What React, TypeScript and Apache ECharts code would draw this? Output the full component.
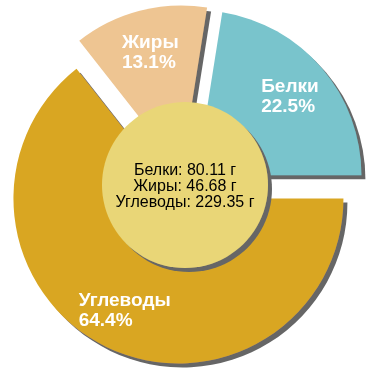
import React, { useEffect, useRef } from "react";
import * as echarts from "echarts";

const categories = ["Белки", "Жиры", "Углеводы"];
const grams = [80.11, 46.68, 229.35];
const colors = ["#79c4cc", "#eec592", "#d9a621"];
const centerColor = "#e9d677";
const unit = "г";

export default function App() {
  const ref = useRef<HTMLDivElement>(null);
  useEffect(() => {
    if (!ref.current) return;
    const chart = echarts.init(ref.current, undefined, { renderer: "svg" });
    const shadow = {
      shadowColor: "#666666",
      shadowBlur: 0,
      shadowOffsetX: 4,
      shadowOffsetY: 4,
    };
    const centerText = categories
      .map((c, i) => `${c}: ${grams[i].toFixed(2)} ${unit}`)
      .join("\n");
    const common = {
      type: "pie",
      center: ["50%", "50%"],
      startAngle: 0,
      clockwise: false,
      selectedMode: "multiple",
      selectedOffset: 15,
      percentPrecision: 1,
      silent: true,
      emphasis: { disabled: true },
      labelLine: { show: false },
    };
    chart.setOption({
      animation: false,
      series: [
        {
          ...common,
          radius: [0, 165],
          itemStyle: { ...shadow },
          label: { show: false },
          select: { itemStyle: { ...shadow, borderWidth: 0 } },
          data: categories.map((c, i) => ({
            name: c,
            value: grams[i],
            selected: true,
            itemStyle: { color: colors[i] },
            select: { itemStyle: { color: colors[i] } },
          })),
        },
        {
          ...common,
          radius: [75, 165],
          itemStyle: { color: "rgba(0,0,0,0)" },
          label: {
            show: true,
            position: "inside",
            formatter: "{b}\n{d}%",
            color: "#ffffff",
            fontFamily: "Liberation Sans",
            fontWeight: "bold",
            fontSize: 19,
            lineHeight: 20,
          },
          labelLayout: (params: any) => ({
            dx: -params.labelRect.width / 2,
            align: "left",
          }),
          select: {
            itemStyle: { color: "rgba(0,0,0,0)", borderWidth: 0 },
            label: { color: "#ffffff" },
          },
          data: categories.map((c, i) => ({
            name: c,
            value: grams[i],
            selected: true,
          })),
        },
        {
          type: "pie",
          center: ["50%", "50%"],
          radius: [0, 83],
          silent: true,
          emphasis: { disabled: true },
          itemStyle: { color: centerColor, ...shadow },
          label: {
            show: true,
            position: "center",
            formatter: centerText,
            color: "#000000",
            fontFamily: "Liberation Sans",
            fontSize: 16,
            lineHeight: 16,
          },
          labelLine: { show: false },
          data: [{ name: "center", value: 1 }],
        },
      ],
    });
    return () => chart.dispose();
  }, []);
  return (
    <div
      ref={ref}
      style={{ position: "fixed", left: 0, top: 0, width: 370, height: 370 }}
    />
  );
}
